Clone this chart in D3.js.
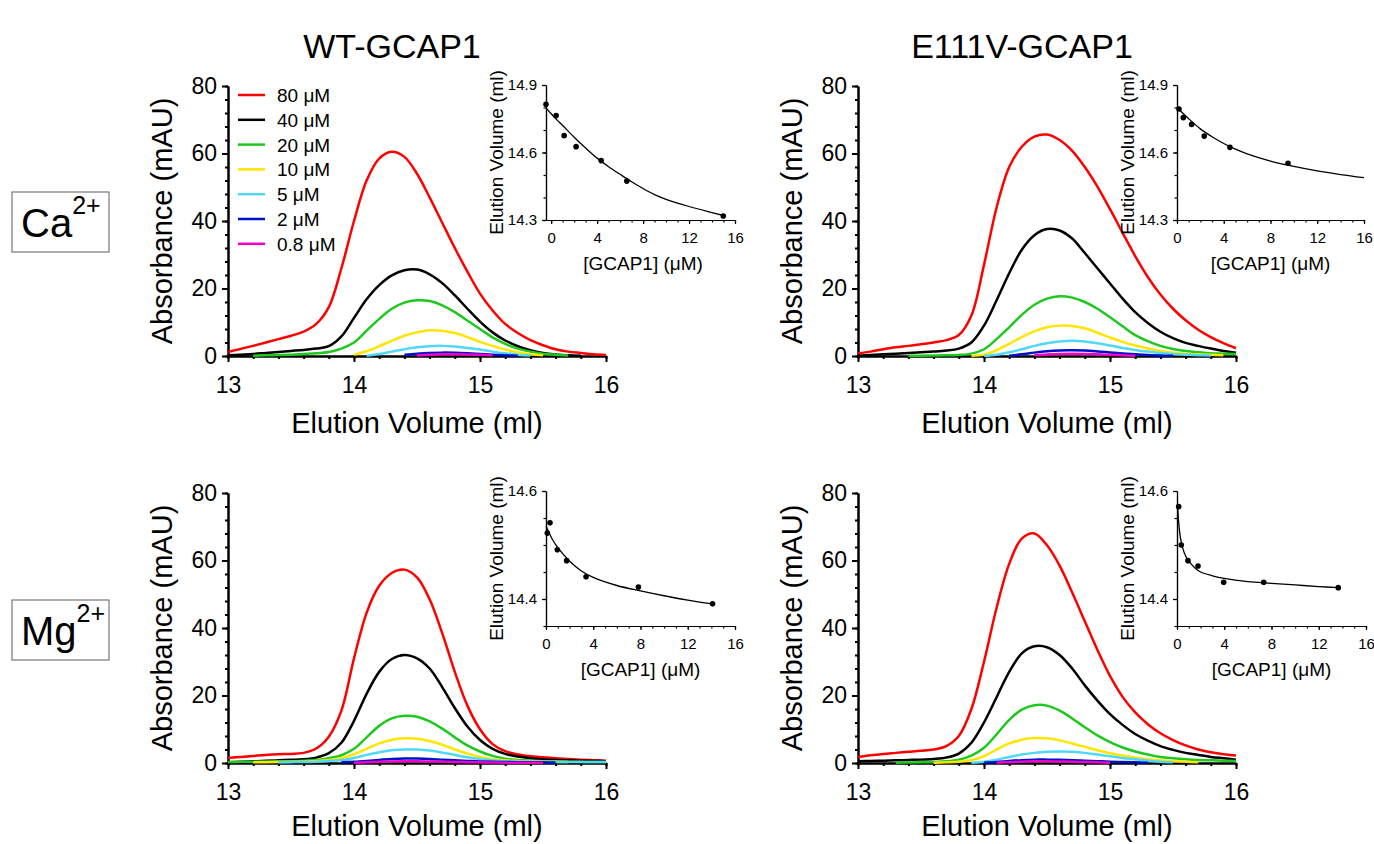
<!DOCTYPE html>
<html>
<head>
<meta charset="utf-8">
<script src="https://cdn.jsdelivr.net/npm/d3@7"></script>
<style>
body { margin: 0; background: #fff; }
svg text { font-family: "Liberation Sans", Arial, sans-serif; fill: #000; }
</style>
</head>
<body>
<script>
var svgWidth = 1374,
    svgHeight = 844;

// elution volume grid (ml) shared by every trace
var elution = [13.0, 13.1, 13.2, 13.3, 13.4, 13.5, 13.6, 13.7, 13.8, 13.9,
               14.0, 14.1, 14.2, 14.3, 14.4, 14.5, 14.6, 14.7, 14.8, 14.9,
               15.0, 15.1, 15.2, 15.3, 15.4, 15.5, 15.6, 15.7, 15.8, 15.9, 16.0];

var concLabels = ["80 \u03bcM", "40 \u03bcM", "20 \u03bcM", "10 \u03bcM", "5 \u03bcM", "2 \u03bcM", "0.8 \u03bcM"];
var traceColors = ["#ff0000", "#000000", "#1ec81e", "#ffe600", "#50d8f8", "#0010c8", "#f000c8"];

// absorbance (mAU), one row per loaded concentration, null = not drawn
var wtCa = [
  [1.2,2.1,3.0,4.0,5.0,6.0,7.2,9.5,14.5,26,40,52,58.5,60.5,59,54,47,39.5,32,25,18.5,13.5,9.5,6.8,4.7,3.2,2.0,1.3,0.9,0.5,0.3],
  [0.2,0.4,0.6,0.9,1.2,1.5,1.8,2.2,2.9,5.8,11.3,16.8,21.0,23.9,25.4,25.6,24.2,21.6,18.0,14.0,10.2,7.0,4.6,2.9,1.7,0.9,0.45,0.2,0.1,null,null],
  [null,null,0.1,0.2,0.3,0.4,0.6,0.8,1.2,2.2,4.0,7.5,11,14,15.8,16.5,16.3,15.0,13,10.5,8.0,5.5,3.6,2.2,1.3,0.7,0.35,0.15,null,null,null],
  [null,null,null,null,null,null,null,null,null,null,0.4,1.4,2.9,4.5,6.0,7.0,7.6,7.5,6.8,5.6,4.2,3.0,1.9,1.1,0.5,0.2,null,null,null,null,null],
  [null,null,null,null,null,null,null,null,null,null,null,0.1,0.6,1.3,2.0,2.6,2.9,3.0,2.8,2.4,1.9,1.3,0.8,0.4,0.15,null,null,null,null,null,null],
  [null,null,null,null,null,null,null,null,null,null,null,null,null,null,0.4,0.7,0.9,1.0,0.95,0.8,0.6,0.4,0.2,0.05,null,null,null,null,null,null,null],
  [null,null,null,null,null,null,null,null,null,null,null,null,null,null,null,0.2,0.4,0.5,0.5,0.45,0.35,0.2,null,null,null,null,null,null,null,null,null]
];

var e111vCa = [
  [0.8,1.3,2.0,2.6,3.0,3.5,4.0,4.7,6.2,12,27,44,56,62,65,65.6,64.0,60.8,56.0,50.2,43.5,36.5,29.6,23.4,18.2,14.0,10.6,7.8,5.6,3.8,2.3],
  [0.1,0.3,0.5,0.7,0.9,1.1,1.3,1.6,2.2,4.0,9.0,16.5,24.5,31.5,35.8,37.6,37.2,34.8,30.5,26,21.5,17,13,9.8,7.2,5.3,3.9,3.0,2.2,1.5,1.0],
  [null,null,null,null,0.05,0.1,0.15,0.2,0.3,0.7,2.0,5.0,8.5,12.2,15.2,17,17.7,17.3,16,14,11.5,8.8,6.2,4.4,3.0,2.1,1.5,1.1,0.8,0.7,0.6],
  [null,null,null,null,null,null,null,null,null,0.05,0.4,1.7,3.6,5.6,7.3,8.5,9.0,8.9,8.2,6.9,5.5,4.2,3.1,2.2,1.5,1.0,0.7,0.5,0.35,0.25,null],
  [null,null,null,null,null,null,null,null,null,null,0.05,0.4,1.1,2.0,3.0,3.8,4.3,4.5,4.3,3.8,3.1,2.4,1.8,1.3,0.9,0.6,0.4,0.25,0.15,null,null],
  [null,null,null,null,null,null,null,null,null,null,null,null,0.1,0.5,1.0,1.4,1.65,1.7,1.6,1.35,1.05,0.75,0.5,0.3,0.15,0.05,null,null,null,null,null],
  [null,null,null,null,null,null,null,null,null,null,null,null,null,null,0.2,0.45,0.6,0.65,0.6,0.5,0.35,0.2,0.05,null,null,null,null,null,null,null,null]
];

var wtMg = [
  [1.5,1.8,2.1,2.4,2.6,2.7,3.0,4.3,7.8,15.5,31,44.5,52.5,56.3,57.3,55,48.5,38.5,27,17,10,5.6,3.5,2.5,2.0,1.7,1.4,1.2,1.0,0.85,0.7],
  [0.2,0.35,0.5,0.65,0.8,0.95,1.1,1.6,2.9,6.0,12.5,20.5,27,30.8,32,31,28,22.5,16.3,10.8,6.8,4.2,2.7,1.9,1.4,1.1,0.9,0.8,0.7,0.6,0.5],
  [0.3,0.35,0.4,0.45,0.5,0.55,0.7,0.9,1.4,2.3,4.2,7.6,11,13.2,14.0,13.7,12.3,10.2,7.6,5.2,3.4,2.1,1.3,0.9,0.7,0.55,0.45,0.4,0.35,0.3,0.3],
  [null,null,0.2,0.25,0.3,0.35,0.45,0.6,0.9,1.5,2.6,4.2,5.8,6.9,7.3,7.2,6.5,5.4,4.0,2.8,1.8,1.2,0.8,0.6,0.45,0.4,0.35,0.3,null,null,null],
  [null,null,null,null,0.2,0.25,0.3,0.4,0.6,0.9,1.5,2.4,3.2,3.8,4.0,4.0,3.7,3.1,2.4,1.7,1.2,0.8,0.55,0.45,0.4,0.35,0.3,0.3,0.3,0.3,0.3],
  [null,null,null,null,null,null,null,null,null,0.2,0.35,0.6,0.9,1.15,1.3,1.3,1.2,1.0,0.8,0.6,0.45,0.35,0.3,0.25,0.2,0.2,0.15,null,null,null,null],
  [null,null,null,null,null,null,null,null,null,null,0.1,0.2,0.35,0.45,0.5,0.5,0.45,0.4,0.3,0.25,0.2,0.15,0.1,0.1,0.1,0.1,null,null,null,null,null]
];

var e111vMg = [
  [1.8,2.3,2.7,3.0,3.3,3.6,4.0,5.0,8.0,16,30,46,59,66.5,68,64.5,58.5,50.5,42,33.5,25.8,19.6,15.0,11.5,8.8,6.8,5.2,4.0,3.2,2.6,2.2],
  [0.5,0.6,0.7,0.8,0.9,1.0,1.2,1.6,2.8,6,12,19.5,27,32.5,34.6,34.3,32,28,23,18.5,14.5,11.3,8.6,6.6,5.0,3.9,3.0,2.4,1.8,1.4,1.0],
  [null,null,null,0.1,0.15,0.2,0.3,0.5,1.0,2.2,4.5,8.5,12.8,15.8,17.1,17.0,15.5,13.2,10.6,8.2,6.2,4.6,3.4,2.5,1.8,1.4,1.1,0.9,0.8,0.7,0.6],
  [null,null,null,null,null,null,0.1,0.2,0.4,0.9,2.0,4.0,5.8,6.9,7.4,7.3,6.7,5.8,4.8,3.8,2.9,2.2,1.6,1.1,0.8,0.55,0.35,0.2,null,null,null],
  [null,null,null,null,null,null,null,null,null,0.1,0.4,1.0,1.8,2.5,3.0,3.3,3.4,3.3,3.0,2.5,2.0,1.5,1.1,0.7,0.4,0.2,null,null,null,null,null],
  [null,null,null,null,null,null,null,null,null,null,0.1,0.3,0.6,0.85,1.0,1.0,0.95,0.85,0.7,0.55,0.4,0.3,0.2,0.1,null,null,null,null,null,null,null],
  [null,null,null,null,null,null,null,null,null,null,null,0.1,0.25,0.4,0.5,0.5,0.45,0.4,0.3,0.2,0.1,null,null,null,null,null,null,null,null,null,null]
];

// insets: elution volume vs [GCAP1]
var wtCaConc = [-0.45, 0.43, 1.13, 2.17, 4.35, 6.58, 14.98];
var wtCaVol  = [14.814, 14.764, 14.675, 14.626, 14.564, 14.473, 14.318];
var wtCaFitX = [-0.4, 0, 0.5, 1, 2, 3, 4, 5, 6, 7, 8, 9, 10, 12, 14, 15];
var wtCaFitV = [14.795, 14.772, 14.745, 14.72, 14.668, 14.62, 14.575, 14.537, 14.503, 14.47, 14.44, 14.413, 14.392, 14.36, 14.333, 14.32];

var e111vCaConc = [0.17, 0.54, 1.25, 2.33, 4.53, 9.5];
var e111vCaVol  = [14.793, 14.755, 14.725, 14.673, 14.623, 14.552];
var e111vCaFitX = [0, 1, 2, 3, 4, 5, 6, 8, 10, 12, 14, 16];
var e111vCaFitV = [14.80, 14.75, 14.705, 14.67, 14.64, 14.615, 14.594, 14.562, 14.538, 14.518, 14.502, 14.488];

var wtMgConc = [0.11, 0.34, 0.96, 1.75, 3.39, 7.82, 14.1];
var wtMgVol  = [14.522, 14.541, 14.491, 14.471, 14.441, 14.422, 14.391];
var wtMgFitX = [0, 0.5, 1, 2, 3, 4, 6, 8, 10, 12, 14.1];
var wtMgFitV = [14.535, 14.512, 14.495, 14.47, 14.452, 14.44, 14.425, 14.415, 14.406, 14.398, 14.391];

var e111vMgConc = [0.14, 0.36, 0.93, 1.78, 3.95, 7.34, 13.65];
var e111vMgVol  = [14.571, 14.5, 14.471, 14.461, 14.431, 14.431, 14.421];
var e111vMgFitX = [0.05, 0.15, 0.28, 0.45, 0.7, 1, 1.5, 2, 3, 4, 6, 8, 10, 12, 13.65];
var e111vMgFitV = [14.571, 14.54, 14.515, 14.497, 14.481, 14.47, 14.458, 14.45, 14.443, 14.438, 14.432, 14.429, 14.426, 14.423, 14.421];

var svg = d3.select("body").append("svg")
    .attr("width", svgWidth)
    .attr("height", svgHeight);

function styleAxis(g, width, fontSize) {
    g.select(".domain").attr("stroke", "#000").attr("stroke-width", width);
    g.selectAll(".tick line").attr("stroke", "#000").attr("stroke-width", width);
    g.selectAll(".tick text").style("font-size", fontSize + "px").attr("fill", "#000");
}

function drawMain(traces, left, top, title, showLegend) {
    var x = d3.scaleLinear().domain([13, 16]).range([left, left + 378]),
        y = d3.scaleLinear().domain([0, 80]).range([top + 270, top]);
    var bottom = top + 270;

    // minor ticks
    svg.append("g").attr("transform", "translate(0," + bottom + ")")
        .call(d3.axisBottom(x).tickValues(d3.range(13, 16.01, 0.2)).tickSize(3).tickSizeOuter(0).tickFormat(""))
        .call(styleAxis, 2, 1);
    svg.append("g").attr("transform", "translate(" + left + ",0)")
        .call(d3.axisLeft(y).tickValues(d3.range(0, 81, 4)).tickSize(3).tickSizeOuter(0).tickFormat(""))
        .call(styleAxis, 2, 1);
    // major ticks
    svg.append("g").attr("transform", "translate(0," + bottom + ")")
        .call(d3.axisBottom(x).tickValues([13, 14, 15, 16]).tickSize(6).tickSizeOuter(0).tickPadding(15).tickFormat(d3.format("d")))
        .call(styleAxis, 2, 23);
    svg.append("g").attr("transform", "translate(" + left + ",0)")
        .call(d3.axisLeft(y).tickValues([0, 20, 40, 60, 80]).tickSize(6).tickSizeOuter(0).tickPadding(5).tickFormat(d3.format("d")))
        .call(styleAxis, 2, 23);

    var line = d3.line()
        .defined(function(d) { return d[1] !== null; })
        .x(function(d) { return x(d[0]); })
        .y(function(d) { return y(d[1]); })
        .curve(d3.curveCatmullRom.alpha(0.5));

    traces.forEach(function(t, i) {
        svg.append("path")
            .datum(elution.map(function(v, j) { return [v, t[j]]; }))
            .attr("d", line)
            .attr("fill", "none")
            .attr("stroke", traceColors[i])
            .attr("stroke-width", 2.5)
            .attr("stroke-linejoin", "round");
    });

    svg.append("text")
        .attr("transform", "translate(" + (left - 56) + "," + (top + 135) + ") rotate(-90)")
        .attr("text-anchor", "middle")
        .style("font-size", "29px")
        .text("Absorbance (mAU)");

    svg.append("text")
        .attr("x", left + 189).attr("y", Math.min(bottom + 77, svgHeight - 8))
        .attr("text-anchor", "middle")
        .style("font-size", "29px")
        .text("Elution Volume (ml)");

    if (title) {
        svg.append("text")
            .attr("x", left + 164).attr("y", 58)
            .attr("text-anchor", "middle")
            .style("font-size", "34px")
            .text(title);
    }

    if (showLegend) {
        var leg = svg.append("g");
        concLabels.forEach(function(lbl, i) {
            var ly = top + 9 + i * 24.8;
            leg.append("line")
                .attr("x1", left + 10).attr("x2", left + 37)
                .attr("y1", ly).attr("y2", ly)
                .attr("stroke", traceColors[i]).attr("stroke-width", 2.5);
            leg.append("text")
                .attr("x", left + 49).attr("y", ly + 7)
                .style("font-size", "19px")
                .text(lbl);
        });
    }
}

function drawInset(opt) {
    var x = d3.scaleLinear().domain(opt.xDomain).range([opt.left, opt.right]),
        y = d3.scaleLinear().domain(opt.yDomain).range([opt.bottom, opt.top]);

    svg.append("g").attr("transform", "translate(0," + opt.bottom + ")")
        .call(d3.axisBottom(x).tickValues(d3.range(0, 16.01, 1)).tickSize(2.5).tickSizeOuter(0).tickFormat(""))
        .call(styleAxis, 1.2, 1);
    svg.append("g").attr("transform", "translate(" + opt.left + ",0)")
        .call(d3.axisLeft(y).tickValues(opt.yMinor).tickSize(2.5).tickSizeOuter(0).tickFormat(""))
        .call(styleAxis, 1.2, 1);
    svg.append("g").attr("transform", "translate(0," + opt.bottom + ")")
        .call(d3.axisBottom(x).tickValues([0, 4, 8, 12, 16]).tickSize(4).tickSizeOuter(0).tickPadding(8).tickFormat(d3.format("d")))
        .call(styleAxis, 1.2, 15);
    svg.append("g").attr("transform", "translate(" + opt.left + ",0)")
        .call(d3.axisLeft(y).tickValues(opt.yMajor).tickSize(4).tickSizeOuter(0).tickPadding(5).tickFormat(d3.format(".1f")))
        .call(styleAxis, 1.2, 15);

    var fit = d3.line()
        .x(function(d) { return x(d[0]); })
        .y(function(d) { return y(d[1]); })
        .curve(d3.curveCatmullRom.alpha(0.5));

    svg.append("path")
        .datum(opt.fitX.map(function(v, i) { return [v, opt.fitV[i]]; }))
        .attr("d", fit)
        .attr("fill", "none")
        .attr("stroke", "#000")
        .attr("stroke-width", 1.3);

    svg.append("g").selectAll("circle")
        .data(opt.conc.map(function(v, i) { return [v, opt.vol[i]]; }))
        .enter()
            .append("circle")
                .attr("cx", function(d) { return x(d[0]); })
                .attr("cy", function(d) { return y(d[1]); })
                .attr("r", 2.8)
                .attr("fill", "#000");

    svg.append("text")
        .attr("transform", "translate(" + (opt.left - 43) + "," + ((opt.top + opt.bottom) / 2) + ") rotate(-90)")
        .attr("text-anchor", "middle")
        .style("font-size", "19px")
        .text("Elution Volume (ml)");

    svg.append("text")
        .attr("x", x(8)).attr("y", opt.bottom + 50)
        .attr("text-anchor", "middle")
        .style("font-size", "19px")
        .text("[GCAP1] (\u03bcM)");
}

function drawIonBox(label, top) {
    svg.append("rect")
        .attr("x", 12).attr("y", top)
        .attr("width", 97).attr("height", 60)
        .attr("fill", "none")
        .attr("stroke", "#777")
        .attr("stroke-width", 1.2);
    var t = svg.append("text")
        .attr("x", 21).attr("y", top + 45)
        .style("font-size", "40px")
        .text(label);
    t.append("tspan")
        .attr("dy", -23)
        .style("font-size", "25px")
        .text("2+");
}

drawMain(wtCa, 228, 86, "WT-GCAP1", true);
drawMain(e111vCa, 858, 86, "E111V-GCAP1", false);
drawMain(wtMg, 228, 493, null, false);
drawMain(e111vMg, 858, 493, null, false);

var caMinor = d3.range(14.3, 14.901, 0.1),
    mgMinor = d3.range(14.35, 14.601, 0.05);

drawInset({ left: 546, right: 735, top: 85, bottom: 220, xDomain: [-0.45, 16], yDomain: [14.3, 14.9],
            yMajor: [14.3, 14.6, 14.9], yMinor: caMinor,
            conc: wtCaConc, vol: wtCaVol, fitX: wtCaFitX, fitV: wtCaFitV });
drawInset({ left: 1177, right: 1364, top: 85, bottom: 220, xDomain: [0, 16], yDomain: [14.3, 14.9],
            yMajor: [14.3, 14.6, 14.9], yMinor: caMinor,
            conc: e111vCaConc, vol: e111vCaVol, fitX: e111vCaFitX, fitV: e111vCaFitV });
drawInset({ left: 546, right: 735, top: 491, bottom: 626, xDomain: [0, 16], yDomain: [14.35, 14.6],
            yMajor: [14.4, 14.6], yMinor: mgMinor,
            conc: wtMgConc, vol: wtMgVol, fitX: wtMgFitX, fitV: wtMgFitV });
drawInset({ left: 1177, right: 1366, top: 491, bottom: 626, xDomain: [0, 16], yDomain: [14.35, 14.6],
            yMajor: [14.4, 14.6], yMinor: mgMinor,
            conc: e111vMgConc, vol: e111vMgVol, fitX: e111vMgFitX, fitV: e111vMgFitV });

drawIonBox("Ca", 192);
drawIonBox("Mg", 600);
</script>
</body>
</html>
